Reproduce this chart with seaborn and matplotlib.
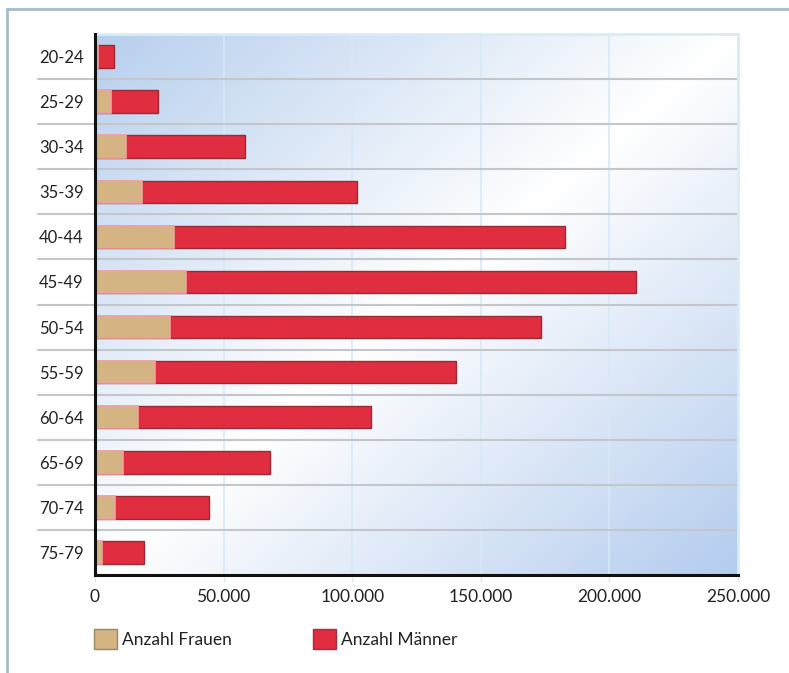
import numpy as np
import pandas as pd
import matplotlib
matplotlib.use("Agg")
import matplotlib.pyplot as plt
from matplotlib.colors import LinearSegmentedColormap
from matplotlib.patches import Patch
import matplotlib.transforms as mtransforms
from matplotlib.lines import Line2D
import seaborn as sns

# ---- data ----
age_groups = ["20-24", "25-29", "30-34", "35-39", "40-44", "45-49",
              "50-54", "55-59", "60-64", "65-69", "70-74", "75-79"]
frauen = [1200, 6300, 12200, 18400, 30700, 35500, 29300, 23300, 16800, 10700, 7600, 2800]
maenner = [6300, 18300, 46300, 83400, 152000, 175000, 144000, 117100, 90400, 57200, 36900, 16400]
x_ticks = [0, 50000, 100000, 150000, 200000, 250000]
x_tick_labels = ["0", "50.000", "100.000", "150.000", "200.000", "250.000"]
legend_labels = ["Anzahl Frauen", "Anzahl Männer"]

df = pd.DataFrame({"Altersgruppe": age_groups, "Frauen": frauen, "Maenner": maenner})
df["Gesamt"] = df["Frauen"] + df["Maenner"]

sns.set_theme(style="white")
plt.rcParams["font.family"] = ["Lato", "DejaVu Sans"]

W, H = 789, 673
fig = plt.figure(figsize=(W / 100, H / 100), dpi=100)
ax = fig.add_axes([95 / W, 1 - 575 / H, (738 - 95) / W, (575 - 34) / H])

# outer frame (top and left lines)
fig.add_artist(Line2D([7 / W, 1.0], [1 - 9 / H, 1 - 9 / H], transform=fig.transFigure,
                      color="#a3bccb", lw=2))
fig.add_artist(Line2D([7 / W, 7 / W], [0, 1 - 9 / H], transform=fig.transFigure,
                      color="#a3bccb", lw=2))

# gradient background
n = 200
xx, yy = np.meshgrid(np.linspace(0, 1, n), np.linspace(0, 1, n))
t = (xx + yy) / 2.0
cmap = LinearSegmentedColormap.from_list("bg", ["#b7cfee", "#ffffff", "#b4ccee"])
ax.imshow(t, cmap=cmap, extent=[0, 1, 0, 1], transform=ax.transAxes,
          aspect="auto", zorder=0, origin="upper", interpolation="bicubic")

red = "#e02e40"
tan = "#d5b483"

sns.barplot(data=df, y="Altersgruppe", x="Gesamt", order=age_groups, orient="h",
            color=red, saturation=1, width=0.5, edgecolor="#9a2a34", linewidth=1.0,
            ax=ax, zorder=3)
sns.barplot(data=df, y="Altersgruppe", x="Frauen", order=age_groups, orient="h",
            color=tan, saturation=1, width=0.5, edgecolor="#f0a0a0", linewidth=1.2,
            ax=ax, zorder=4)

ax.set_xlim(0, 250000)
ax.set_ylim(len(age_groups) - 0.5, -0.5)

# vertical gridlines
for xv in x_ticks[1:-1]:
    ax.axvline(xv, color="#d6e9f7", lw=1.2, zorder=1)

# horizontal separators extending into label area
trans = mtransforms.blended_transform_factory(fig.transFigure, ax.transData)
for i in range(len(age_groups) - 1):
    yv = i + 0.5
    ax.add_line(Line2D([38 / W, 738 / W], [yv, yv], transform=trans, color="#c3c6ca",
                       lw=1.5, zorder=2, clip_on=False))

for s in ["top", "right"]:
    ax.spines[s].set_color("#d8ecf8")
    ax.spines[s].set_linewidth(2)
for s in ["left", "bottom"]:
    ax.spines[s].set_color("#111111")
    ax.spines[s].set_linewidth(2.2)
    ax.spines[s].set_zorder(6)

ax.set_xticks(x_ticks)
ax.set_xticklabels(x_tick_labels, fontsize=12.5, color="#222222")
ax.tick_params(axis="x", length=5, width=1, color="#d6e9f7", pad=5, bottom=True)
ax.tick_params(axis="y", length=0, pad=8, labelsize=12, labelcolor="#222222")
ax.set_xlabel("")
ax.set_ylabel("")

handles = [Patch(facecolor=tan, edgecolor="#9c8660", lw=1.0),
           Patch(facecolor=red, edgecolor="#a0303a", lw=1.0)]
fig.legend(handles, legend_labels, loc="center left",
           bbox_to_anchor=(94 / W, 1 - 639 / H), ncol=2, frameon=False,
           borderaxespad=0, borderpad=0,
           fontsize=12.5, handlelength=1.32, handleheight=1.32, handletextpad=0.27,
           columnspacing=4.7, labelcolor="#222222")

fig.savefig("out.png", dpi=100)
